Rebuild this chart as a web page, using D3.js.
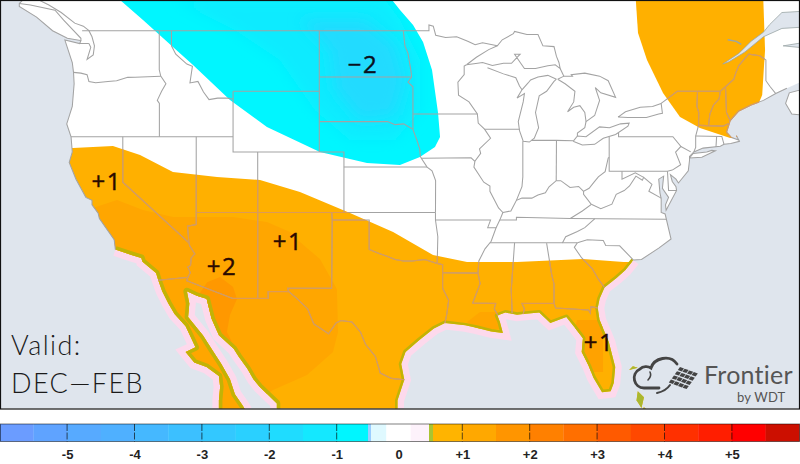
<!DOCTYPE html>
<html><head><meta charset="utf-8">
<script src="https://cdn.jsdelivr.net/npm/d3@7/dist/d3.min.js"></script>
<style>html,body{margin:0;padding:0;background:#fff}svg{display:block}</style>
</head><body><svg id="c" width="800" height="464"></svg>
<script>
// ---------- legend data ----------
const tickValues=[-5,-4,-3,-2,-1,0,1,2,3,4,5];
const tickLabels=["-5","-4","-3","-2","-1","0","+1","+2","+3","+4","+5"];
const bandEdges=[-6,-5.5,-5,-4.5,-4,-3.5,-3,-2.5,-2,-1.5,-1,-0.5,-0.45,-0.2,0.2,0.5,0.56,1,1.5,2,2.5,3,3.5,4,4.5,5,5.5,6];
const bandColors=["#6b9cff","#5fa3ff","#57aaff","#4fb0ff","#45b8ff","#3cc0ff","#33c8ff","#2ad0ff","#1fdcff","#14e8ff","#00f6ff","#99ccff","#dff9ff","#ffffff","#fdf2fb","#a9c432","#ffb400","#ffa800","#ff9500","#ff8000","#ff6f00","#ff5a00","#ff4800","#ff3000","#ff1e00","#ff0000","#cc0f00"];
// ---------- map annotations ----------
const annotations=[["−2",-100.5,46.2],["+1",-121.3,38.5],["+1",-106.6,34.5],["+2",-111.95,32.9],["+1",-81.35,27.85]];
// ---------- coasts (lon,lat) ----------
const atlanticNorth=[[-66.1,45.2],[-67,44.85],[-68,44.4],[-69,44.1],[-70,43.7],[-70.7,43.07],[-70.8,42.8],[-71,42.3],[-70.6,41.95],[-70,41.78],[-70.2,42.07],[-69.95,41.7],[-70.65,41.55],[-71.2,41.5],[-71.5,41.37],[-72.9,41.25],[-73.65,41],[-74,40.7],[-74,40.45],[-74.1,39.75],[-74.9,38.95],[-75.1,39.2],[-75.55,39.5],[-75.4,39.05],[-75.1,38.7],[-75.05,38.45],[-75.9,37.15],[-75.95,37.5],[-75.7,38],[-76.2,38.6],[-76.1,39.4],[-76.5,39.2],[-76.4,38.3],[-76.3,37.9],[-76.3,37],[-75.98,36.9],[-75.5,35.25],[-76.5,34.65],[-77.9,33.9],[-78.55,33.86]];
const gulfCoast=[[-78.55,33.86],[-79.2,33.2],[-79.9,32.7],[-80.9,32.05],[-81.3,31.3],[-81.45,30.7],[-81.3,29.9],[-80.55,28.45],[-80.03,26.8],[-80.15,25.75],[-80.4,25.2],[-81.1,25.13],[-81.8,26.1],[-82.2,26.9],[-82.75,27.8],[-82.65,28.7],[-83.4,29.5],[-84,30.1],[-85.3,29.7],[-86.2,30.4],[-87.5,30.3],[-88,30.25],[-88.95,30.4],[-89.6,30.2],[-89.4,29.8],[-89.15,29.05],[-90.1,29.15],[-91.3,29.4],[-92.2,29.55],[-93.85,29.7],[-94.75,29.35],[-95.9,28.6],[-97.05,27.8],[-97.4,27],[-97.15,25.96],[-97.7,24.6],[-97.7,23.9]];
const mexPacific=[[-107.5,23.9],[-107.5,24.4],[-108.9,25.5],[-109.4,26],[-109.9,26.7],[-110.6,27.5],[-111,28],[-112.2,28.9],[-112.8,30],[-113.2,31.3],[-114,31.5],[-114.8,31.8],[-114.6,31],[-114.7,30.1],[-113.5,28.9],[-112.8,28],[-112,27],[-111.3,26],[-110.9,25],[-110.3,24.3],[-110,23.9]];
const bajaWest=[[-112.2,23.9],[-112.2,24.6],[-112.1,25.5],[-112.2,26.2],[-113.2,26.8],[-114.2,27.1],[-114.9,27.8],[-114.1,28.1],[-114.9,29.5],[-115.8,30.3],[-116.3,31],[-116.8,31.8],[-117.12,32.53],[-117.3,33],[-118.4,33.75],[-118.5,34],[-119.3,34.2],[-120.6,34.55]];
const pacificNorth=[[-120.6,34.55],[-120.7,35.2],[-121.9,36.6],[-122,36.95],[-122.5,37.5],[-122.5,37.8],[-123,38],[-123.8,39.2],[-124.35,40.3],[-124.1,41],[-124.2,42],[-124.55,42.85],[-124.1,44],[-123.95,45.5],[-124,46.25],[-124.1,46.9],[-124.7,48.38],[-123.5,48.15],[-123.4,48.35],[-124.5,48.5],[-125.7,49],[-127,49.9],[-128.4,50.6],[-128.4,50.8],[-127.5,51.5]];
const northCorners=[[-64.5,51.5],[-64.5,45.8],[-65,45.6]];
const straitLines=[[[-122.75,48.15],[-122.6,47.9],[-122.9,47.1],[-122.4,47.4],[-122.3,48],[-122.5,48.6],[-122.75,49],[-123.2,49.3],[-123.9,49.5],[-125,50.2],[-126,50.7],[-127,51.1]],[[-123.5,48.15],[-122.75,48.15]],[[-128.4,50.8],[-127.5,50.7],[-125.5,50.35],[-124.8,49.7],[-123.4,48.5],[-123.4,48.35]]];
const novaScotia=[[-64.5,45.2],[-65.9,44.9],[-66.2,44.2],[-65.7,43.5],[-64.5,43.4]];
const longIsland=[[-74,40.6],[-73.7,40.9],[-72.6,41],[-72.2,41.1],[-71.9,41.07],[-73,40.65],[-74,40.6]];
const stLawrence=[[-71.3,46.8],[-70,47.5],[-69,48.3],[-68,48.9],[-67.5,49.4],[-66.5,50.2],[-64.5,50.3],[-64.5,49.25],[-66.5,49.15],[-68,48.6],[-69.5,47.6],[-70.8,46.95],[-71.3,46.8]];
const chaleur=[[-64.5,47.85],[-66.4,48],[-64.5,48.25]];
const saguenay=[[-70.9,48.4],[-70.2,48.3],[-69.8,48.1]];
const bahamas=[[[-78.9,26.6],[-78.2,26.75],[-78.6,26.85]],[[-78.2,25.2],[-77.7,24.8],[-77.9,24.1],[-78.3,24.6]],[[-77.7,24.15],[-77.3,23.9],[-77.9,23.9]]];
// ---------- Great Lakes ----------
const lakes=[
[[-92.1,46.75],[-91.3,47.25],[-90.3,47.75],[-89.6,48],[-89.2,48.4],[-88.3,48.8],[-88.2,48.95],[-87.2,48.75],[-86.3,48.75],[-85.9,48],[-85,47.95],[-84.8,47.3],[-84.6,46.9],[-84.5,46.5],[-84.9,46.75],[-85.5,46.68],[-86.5,46.5],[-87.4,46.5],[-87.7,46.85],[-88.2,47.45],[-87.75,47.45],[-88.45,46.85],[-89.1,46.85],[-90,46.7],[-90.8,46.9],[-91.2,46.85],[-92.1,46.75]],
[[-84.8,45.8],[-85.5,46.05],[-86.3,45.95],[-86.9,45.75],[-87.1,45.55],[-87.6,45.1],[-88,44.55],[-87.4,44.85],[-87.5,44.3],[-87.9,43],[-87.8,42.4],[-87.5,41.7],[-87,41.65],[-86.6,41.9],[-86.25,42.6],[-86.5,43.6],[-86.2,44.7],[-85.6,45],[-85,45.65],[-84.8,45.8]],
[[-84.7,45.8],[-84.2,46],[-83.5,46],[-83.6,46.1],[-82.5,46.2],[-81.3,46],[-80.6,45.7],[-80,44.6],[-81.2,44.9],[-81.65,45.25],[-81.3,44.4],[-81.7,43.4],[-82.4,43],[-82.5,43.6],[-82.9,44.05],[-83.4,43.95],[-83.9,43.65],[-83.4,44.3],[-83.3,45],[-84.1,45.5],[-84.7,45.8]],
[[-83.45,41.7],[-82.7,41.45],[-81.7,41.5],[-81,41.9],[-80,42.15],[-79,42.7],[-78.9,42.9],[-79.6,42.85],[-80.5,42.6],[-81.3,42.65],[-82.4,42],[-83.1,42.05],[-83.45,41.7]],
[[-79.8,43.3],[-79,43.27],[-77.5,43.27],[-76.5,43.5],[-76.2,43.55],[-76.3,44.2],[-77,44],[-78,43.95],[-79.2,43.65],[-79.8,43.3]],
[[-82.4,43],[-82.5,42.6],[-83.1,42.25],[-83.1,42.05]],
[[-84.5,46.5],[-84.2,46]]];
// ---------- borders ----------
const borders=[
[[-123.3,49],[-95.15,49],[-95.15,49.38],[-94.8,49.3],[-94.6,48.7],[-93.8,48.55],[-92.9,48.6],[-92,48.3],[-91.4,48.07],[-90.8,48.2],[-89.6,48]],
[[-76.3,44.2],[-75,45],[-71.5,45],[-71.08,45.3],[-70.4,45.8],[-70.25,46.2],[-70,46.7],[-69.2,47.45],[-68.3,47.35],[-67.8,47.07],[-67.8,45.7],[-67.45,45.3],[-67,44.85]],
[[-124,46.25],[-123.4,46.2],[-122.9,46.1],[-122.75,45.65],[-122.2,45.57],[-121.2,45.65],[-120.5,45.7],[-119.6,45.92],[-119,45.93],[-116.92,46]],
[[-117.04,49],[-117.04,46.42],[-116.92,46],[-116.5,45.5],[-116.85,45],[-117.2,44.4],[-117.03,44.2],[-117.03,42]],
[[-124.2,42],[-111.05,42]],
[[-120,42],[-120,39],[-114.63,35],[-114.57,34.8],[-114.15,34.27],[-114.45,34],[-114.5,33.5],[-114.72,33.4],[-114.52,33.03],[-114.72,32.72]],
[[-117.12,32.53],[-114.72,32.72],[-114.81,32.5],[-111.07,31.33],[-108.2,31.33],[-108.2,31.78],[-106.53,31.78],[-105.9,31.35],[-105,30.65],[-104.5,29.65],[-103.3,29],[-102.7,29.7],[-102.3,29.87],[-101.4,29.77],[-100.7,29.1],[-100.3,28.3],[-99.5,27.5],[-99.1,26.4],[-98.2,26.05],[-97.15,25.96]],
[[-114.04,42],[-114.04,36.2],[-114.75,36.1],[-114.63,35]],
[[-114.04,37],[-94.62,37]],
[[-111.05,44.48],[-111.05,41],[-102.05,41],[-102.05,37]],
[[-102.05,40],[-95.3,40]],
[[-109.05,41],[-109.05,31.33]],
[[-103.04,37],[-103,36.5],[-103.05,32],[-106.62,32],[-106.53,31.78]],
[[-103,36.5],[-100,36.5],[-100,34.56],[-99.2,34.3],[-98.5,34.1],[-97.9,33.9],[-97.2,33.8],[-96.5,33.8],[-95.5,33.9],[-94.48,33.64],[-94.04,33.55],[-94.04,32],[-93.55,31.2],[-93.7,30.3],[-93.85,29.7]],
[[-94.62,37],[-94.62,36.5],[-94.43,35.4],[-94.48,33.64]],
[[-111.05,45],[-104.05,45]],
[[-116.05,49],[-116.05,48],[-115.7,47.45],[-114.8,46.8],[-114.35,46.65],[-114.55,45.55],[-113.9,45.65],[-113.45,44.95],[-113,44.45],[-112.3,44.55],[-111.5,44.55],[-111.05,44.48],[-111.05,45]],
[[-104.05,49],[-104.05,41]],
[[-104.05,45.94],[-96.56,45.94]],
[[-104.05,43],[-98.5,43],[-97.9,42.8],[-97.2,42.85],[-96.45,42.49],[-96.1,41.7],[-95.9,41.2],[-95.85,40.7],[-95.77,40.58],[-95.3,40],[-94.9,39.75],[-94.61,39.1],[-94.62,37]],
[[-97.23,49],[-97.1,48],[-96.85,47.5],[-96.6,46.3],[-96.56,45.94],[-96.85,45.6],[-96.45,45.3],[-96.45,42.49]],
[[-96.45,43.5],[-91.22,43.5]],
[[-95.77,40.58],[-91.73,40.61],[-91.42,40.38]],
[[-94.62,36.5],[-90.15,36.5],[-90.38,36],[-89.7,36],[-90.1,35.1],[-90.6,34.6],[-91.1,33.8],[-91.17,33],[-91,32.3],[-91.6,31.02],[-89.73,31],[-89.85,30.65],[-89.55,30.2]],
[[-94.04,33.02],[-91.17,33]],
[[-92.1,46.75],[-92.29,46.66],[-92.29,46.1],[-92.8,45.6],[-92.75,44.75],[-91.9,44.3],[-91.22,43.5],[-91.15,42.9],[-90.64,42.5],[-90.15,41.9],[-91.05,41.2],[-90.95,40.9],[-91.42,40.38],[-91.5,40],[-90.7,39],[-90.2,38.75],[-90.2,38.4],[-89.5,37.3],[-89.15,37],[-89.4,36.5],[-89.7,36]],
[[-90.2,35],[-83.1,35]],
[[-88.2,35],[-88.47,31.9],[-88.4,30.35]],
[[-85.6,34.98],[-85.18,32.87],[-85,32.3],[-85,31],[-84.86,30.7],[-82.2,30.57],[-82.05,30.36],[-82,30.78],[-81.45,30.7]],
[[-87.5,30.3],[-87.4,30.65],[-87.6,31],[-85,31]],
[[-83.1,35],[-83.35,34.7],[-82.75,34],[-81.9,33.3],[-81.4,32.6],[-80.9,32.05]],
[[-83.1,35],[-82.3,35.2],[-81,35.15],[-80.8,34.82],[-79.67,34.8],[-78.55,33.86]],
[[-84.32,34.99],[-84.05,35.4],[-83.1,35.75],[-82.5,36],[-81.68,36.59]],
[[-89.4,36.5],[-88.05,36.5],[-88.05,36.68],[-83.68,36.6],[-75.87,36.55]],
[[-83.68,36.6],[-82.7,37.1],[-81.97,37.54],[-82.6,38.2],[-82.6,38.4],[-82.15,38.6],[-81.75,39],[-81.4,39.35],[-80.85,39.7],[-80.6,40.6],[-80.52,40.64]],
[[-81.97,37.54],[-81.2,37.25],[-80.3,37.55],[-79.95,38.2],[-79.3,38.45],[-78.87,38.75],[-78.35,39.4],[-77.83,39.13],[-77.72,39.32],[-77.05,38.85],[-77.3,38.4],[-76.3,37.95]],
[[-89.15,37],[-88.5,37.1],[-88.05,37.8],[-87.6,37.95],[-86.8,37.95],[-86.3,38.15],[-85.7,38.3],[-85.4,38.7],[-84.82,39.1],[-84.45,39.1],[-83.7,38.65],[-83,38.72],[-82.6,38.4]],
[[-90.64,42.5],[-87.8,42.5]],
[[-87.53,41.7],[-87.53,39.35],[-87.6,38.7],[-88.05,37.8]],
[[-84.8,41.76],[-84.82,39.1]],
[[-86.82,41.76],[-84.8,41.76],[-83.45,41.73]],
[[-80.52,41.98],[-80.52,39.72],[-75.79,39.72],[-75.4,39.8]],
[[-79.48,39.72],[-79.48,39.2],[-78.4,39.62],[-77.72,39.32]],
[[-75.79,39.72],[-75.7,38.46],[-75.05,38.45]],
[[-79.76,42.27],[-79.76,42],[-75.35,42],[-74.7,41.36],[-75.13,40.98],[-74.72,40.15],[-75.4,39.8]],
[[-74.7,41.36],[-73.9,41]],
[[-73.35,45],[-73.4,44],[-73.25,43.6],[-73.27,42.75],[-73.5,42.05],[-73.5,41.3],[-73.65,41]],
[[-73.27,42.75],[-71.3,42.7],[-70.8,42.87]],
[[-71.5,45],[-71.6,44.5],[-72.05,44.1],[-72.35,43.5],[-72.46,42.73]],
[[-71.08,45.3],[-71,43.6],[-70.7,43.07]],
[[-73.5,42.05],[-71.38,42.02],[-71.2,41.5]],
[[-71.8,42.02],[-71.85,41.32]],
[[-90.4,46.55],[-89.1,46.15],[-88.1,45.9],[-87.8,45.35],[-87.6,45.1]]];
// ---------- anomaly regions (lon,lat) ----------
const coolBase=[[-120.23,51.03],[-118.36,49.71],[-115.93,47.92],[-114.3,46.73],[-111.3,44.42],[-108.3,42.64],[-104,40.99],[-100.18,40.26],[-97.5,40.13],[-95.88,40.66],[-94.66,41.32],[-94.25,41.99],[-94.41,43.57],[-94.9,46.41],[-95.63,48.25],[-96.44,49.38],[-97.5,50.37],[-98.15,51.03]];
const coolMid=[[-115.76,51.03],[-110.9,49.05],[-107.24,47.07],[-104.4,43.77],[-101.56,41.79],[-97.9,41.79],[-95.88,43.77],[-95.88,47.07],[-97.5,49.7],[-98.72,51.03]];
const coolCore=[[-105.62,49.7],[-103.18,47.73],[-102.77,45.09],[-100.75,43.11],[-97.9,43.44],[-97.1,45.75],[-97.9,48.06],[-100.34,49.7]];
const warmBase=[[-130,41.26],[-124.04,41.26],[-120.8,41.39],[-118.6,40.8],[-115.93,39.67],[-112.35,39.34],[-108.86,39.15],[-105.62,38.35],[-101.56,36.97],[-98.06,35.71],[-94.82,34.19],[-92.06,33.73],[-88,33.73],[-82.64,33.93],[-79.35,33.73],[-74.72,33.73],[-74.72,23.8],[-130,23.8]];
const warmNE=[[-78.4,51.5],[-78.18,48.85],[-77.45,47.07],[-76.15,44.89],[-74.77,43.3],[-73.15,42.58],[-70.7,41.92],[-69.5,42.1],[-68.1,44.76],[-67.87,47.73],[-68.03,51.5]];
const warmMid=[[-122.25,37.35],[-120.47,37.83],[-118.36,37.17],[-115.93,36.7],[-111.05,36.7],[-108.3,36.37],[-106.43,35.71],[-105.62,35.05],[-104,33.93],[-102.62,31.95],[-102.53,29.11],[-102.94,27.79],[-105.05,26.27],[-107.8,25.28],[-110.5,23.8],[-117.8,23.8],[-125,31],[-123.5,36.8]];
const warmCore=[[-113.16,32.4],[-112.1,32.74],[-111.05,32.08],[-110.73,31.29],[-111.3,30.24],[-111.55,29.12],[-111.14,28.46],[-112.5,29.25],[-114.13,31.2]];
const warmFlorida=[[-83.13,29.9],[-81.02,29.9],[-81.02,26.47],[-82.48,26.47],[-83.7,28.25]];
const warmDelta=[[-92.06,29.77],[-91,30.43],[-89.6,30.43],[-89.35,29.31],[-91.25,29.31]];

// ---------- scales ----------
const x=d3.scaleLinear().domain([-109.05,-65]).range([257.7,800.4]);
const y=d3.scaleLinear().domain([49,25]).range([30.7,394.3]);
const line=d3.line().x(d=>x(d[0])).y(d=>y(d[1]));
const ring=p=>line(p)+"Z";
const svg=d3.select("#c");
const defs=svg.append("defs");
const SEA="#dfe5ed";
const landRing=[...northCorners,...atlanticNorth,...gulfCoast,...mexPacific,...bajaWest,...pacificNorth];

defs.append("clipPath").attr("id","frame").append("rect").attr("x",1).attr("y",1).attr("width",798).attr("height",407.5);
const landClip=defs.append("clipPath").attr("id","land");
[landRing,novaScotia,longIsland,...bahamas].forEach(r=>landClip.append("path").attr("d",ring(r)));
const warmClip=defs.append("clipPath").attr("id","warm");
[warmBase,warmNE].forEach(r=>warmClip.append("path").attr("d",ring(r)));
defs.append("filter").attr("id","soft").attr("x","-20%").attr("y","-20%").attr("width","140%").attr("height","140%")
  .append("feGaussianBlur").attr("stdDeviation",7);

svg.append("rect").attr("width",800).attr("height",464).attr("fill","#fff");
const map=svg.append("g").attr("clip-path","url(#frame)");
map.append("rect").attr("width",800).attr("height",409).attr("fill",SEA);

// pink halo along warm coasts
[gulfCoast,mexPacific,bajaWest].forEach(c=>map.append("path").attr("d",line(c)).attr("fill","none")
  .attr("stroke","#fdd9ec").attr("stroke-width",13).attr("stroke-linejoin","miter"));

// land
map.append("g").selectAll("path").data([landRing,novaScotia,longIsland]).join("path")
  .attr("d",ring).attr("fill","#fff");

// anomaly fills
const fills=map.append("g").attr("clip-path","url(#land)");
const fillData=[[warmBase,"#ffb000"],[warmNE,"#ffb000"],[warmMid,"#ffa600"],[warmFlorida,"#ffa200"],[warmDelta,"#ffa600"],[warmCore,"#ff9800"]];
fills.selectAll("path.w").data(fillData).join("path").attr("class","w").attr("d",d=>ring(d[0])).attr("fill",d=>d[1]);
fills.append("path").attr("d",ring(coolBase)).attr("fill","#00f6ff");
const coolGroup=fills.append("g").attr("clip-path","url(#coolclip)");
defs.append("clipPath").attr("id","coolclip").append("path").attr("d",ring(coolBase));
coolGroup.append("path").attr("d",ring(coolMid)).attr("fill","#10ebff").attr("filter","url(#soft)");
coolGroup.append("path").attr("d",ring(coolCore)).attr("fill","#22dbff").attr("filter","url(#soft)");
// olive fringe
[[gulfCoast,5],[mexPacific,7],[bajaWest,7]].forEach(c=>fills.append("path").attr("d",line(c[0])).attr("fill","none")
  .attr("stroke","#c2b306").attr("stroke-width",c[1]).attr("stroke-linejoin","round"));
map.append("g").selectAll("path").data(bahamas).join("path").attr("d",ring).attr("fill","#a9b830");

// lines
const GRAY="#a3a3a3";
const allLines=[...lakes,...borders,...straitLines,atlanticNorth,pacificNorth,longIsland,novaScotia,northCorners.slice(1)];
const lineG=map.append("g").attr("fill","none").attr("stroke",GRAY).attr("stroke-width",1.05);
lineG.selectAll("path").data(allLines).join("path").attr("d",line);
const warmLines=map.append("g").attr("clip-path","url(#warm)").attr("fill","none").attr("stroke","#dc9a58").attr("stroke-width",1.1);
warmLines.selectAll("path").data([...borders,atlanticNorth]).join("path").attr("d",line);
map.append("g").selectAll("path").data([stLawrence,chaleur]).join("path").attr("d",ring)
  .attr("fill",SEA).attr("stroke","#9aa6a6").attr("stroke-width",.8);
map.append("path").attr("d",line(saguenay)).attr("fill","none").attr("stroke","#9aa6a6").attr("stroke-width",1.4);

// frame
svg.append("rect").attr("x",.5).attr("y",.5).attr("width",799).attr("height",408.5).attr("fill","none").attr("stroke","#111").attr("stroke-width",1.2);

// annotations
svg.append("g").selectAll("text").data(annotations).join("text")
  .attr("x",d=>x(d[1])).attr("y",d=>y(d[2]))
  .attr("text-anchor","middle").attr("font-family","'Open Sans','DejaVu Sans',sans-serif").attr("font-size",24).attr("letter-spacing",1.5)
  .attr("stroke",(d,i)=>i==0?"#0a1020":"#2a0a00").attr("stroke-width",.45)
  .attr("fill",(d,i)=>i==0?"#0a1020":"#2a0a00").text(d=>d[0]);
svg.append("g").attr("font-family","Lato,'Open Sans',sans-serif").attr("font-weight",300).attr("font-size",27).attr("letter-spacing",1.4).attr("fill","#1a1a1a")
  .selectAll("text").data([["Valid:",355],["DEC—FEB",393]]).join("text").attr("x",11).attr("y",d=>d[1]).text(d=>d[0]);

// logo
const logo=svg.append("g").attr("fill","none").attr("stroke","#444").attr("stroke-width",2.8).attr("stroke-linecap","round");
logo.append("path").attr("d","M659 388 L644 388 C634 388 630 374 640 369 C643 366 648 366 651 368 C654 358 670 354 677 364");
logo.append("path").attr("d","M650 372 Q652 376 648 380").attr("stroke-width",1.6);
logo.append("path").attr("d","M670 385 Q666 391 657 393").attr("stroke-width",2);
const panels=d3.cross(d3.range(4),d3.range(4));
svg.append("g").attr("fill","#444").selectAll("path").data(panels).join("path")
  .attr("d",([r,c])=>{const a=680+c*4.6-r*3,b=367+r*4.2+c*1.7;return `M${a} ${b}l4 1.4l-2.2 3l-4 -1.4Z`;});
svg.append("text").attr("x",704).attr("y",383.5).attr("font-family","Lato,sans-serif").attr("font-size",25).attr("letter-spacing",.25).attr("fill","#555").text("Frontier");
svg.append("text").attr("x",737).attr("y",401.5).attr("font-family","Lato,sans-serif").attr("font-size",13).attr("letter-spacing",.2).attr("fill","#555").text("by WDT");

// colour bar
const bar=d3.scaleLinear().domain([-6,-1,-0.5,0.5,1,6]).range([-0.3,336.7,368,429,462.3,799.3]);
const lg=svg.append("g");
lg.selectAll("rect.b").data(bandColors).join("rect").attr("class","b")
  .attr("x",(d,i)=>bar(bandEdges[i])).attr("width",(d,i)=>bar(bandEdges[i+1])-bar(bandEdges[i])+.3)
  .attr("y",424).attr("height",17.5).attr("fill",d=>d);
lg.append("rect").attr("x",.5).attr("y",424).attr("width",799).attr("height",17.5).attr("fill","none").attr("stroke","#000").attr("stroke-opacity",.5).attr("stroke-width",1);
const axis=d3.axisBottom(bar).tickValues(tickValues).tickSize(0).tickPadding(0).tickFormat((d,i)=>tickLabels[i]);
const ag=svg.append("g").attr("transform","translate(0,442)").call(axis);
ag.select(".domain").remove();
ag.selectAll("text").attr("y",17).attr("dy",0).attr("font-family","'Liberation Sans',Arial,sans-serif").attr("font-weight","bold").attr("font-size",13).attr("fill","#222");
lg.selectAll("line.t").data(tickValues.filter(d=>d!==0)).join("line").attr("class","t")
  .attr("x1",d=>bar(d)).attr("x2",d=>bar(d)).attr("y1",424).attr("y2",441.5)
  .attr("stroke","#000").attr("stroke-opacity",.65).attr("stroke-dasharray","7 1.5");
</script></body></html>
